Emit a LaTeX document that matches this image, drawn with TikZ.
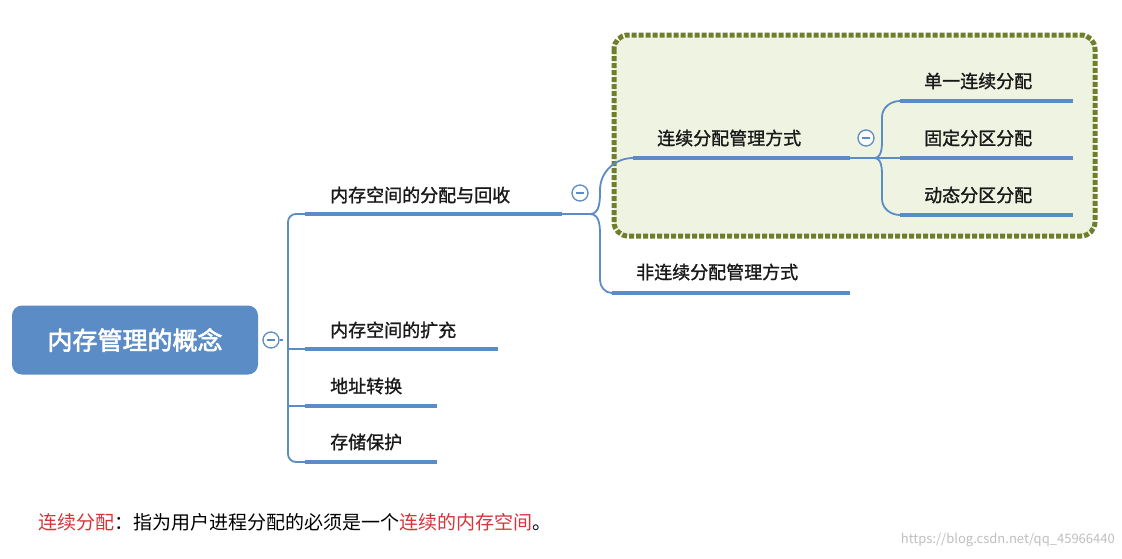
\documentclass[tikz,border=0pt]{standalone}
\usepackage{fontspec}
\setmainfont{Noto Sans CJK SC}
\newfontfamily\lblfont{Noto Sans CJK SC}[FakeBold=1.3]
\newfontfamily\rootfont{Noto Sans CJK SC}[FakeBold=2.5]
\definecolor{mblue}{HTML}{5B8CC6}
\definecolor{olive2}{HTML}{6E7F2C}
\definecolor{lgreen}{HTML}{EFF3E2}
\definecolor{cred}{HTML}{D6343A}
\begin{document}
\begin{tikzpicture}[x=1pt,y=-1pt,
  lbl/.style={font=\lblfont\fontsize{18}{21}\selectfont, text=black!90, inner sep=0},
  bar/.style={mblue, line width=4pt},
  conn/.style={mblue, line width=1.8pt},
  tog/.style={circle, draw=mblue, line width=1.3pt, fill=white, minimum size=16pt, inner sep=0}]
\useasboundingbox (0,0) rectangle (1122,558);
\fill[white] (0,0) rectangle (1122,558);
% dotted box
\draw[olive2, line width=5pt, dotted, fill=lgreen, rounded corners=14pt] (614,35) rectangle (1095,236);
% root
\node[fill=mblue, rounded corners=10pt, minimum width=246pt, minimum height=69pt, text=white, font=\rootfont\fontsize{25}{29}\selectfont] (root) at (135,340) {内存管理的概念};
\node[tog] (t0) at (271,340) {};
\draw[mblue, line width=1.3pt] (t0.center)++(-4,0) -- ++(8,0);
% level 1
\coordinate (b1) at (305,214);
\coordinate (b2) at (305,349);
\coordinate (b3) at (305,406);
\coordinate (b4) at (305,462);
\draw[conn] (t0.east) -- (283,340);
\draw[conn] (b1) -- (296,214) to[out=180,in=90] (288,222) -- (288,454) to[out=-90,in=180] (296,462) -- (b4);
\draw[conn] (288,349) -- (b2);
\draw[conn] (288,406) -- (b3);
\draw[bar] (b1) -- (562,214);
\draw[bar] (b2) -- (498,349);
\draw[bar] (b3) -- (437,406);
\draw[bar] (b4) -- (437,462);
\node[lbl, anchor=west] (n1) at (330,195) {内存空间的分配与回收};
\node[lbl, anchor=west] (n2) at (330,330) {内存空间的扩充};
\node[lbl, anchor=west] (n3) at (330,386) {地址转换};
\node[lbl, anchor=west] (n4) at (330,442) {存储保护};
% level 2
\node[tog] (t1) at (580,193) {};
\draw[mblue, line width=1.3pt] (t1.center)++(-4,0) -- ++(8,0);
\coordinate (c1) at (633,158);
\coordinate (c2) at (612,293);
\draw[conn] (562,214) -- (590,214) to[out=0,in=-90] (600,190) to[out=90,in=180] (c1);
\draw[conn] (590,214) to[out=0,in=90] (600,240) -- (600,280) to[out=-90,in=180] (c2);
\draw[bar] (c1) -- (850,158);
\draw[bar] (c2) -- (850,293);
\node[lbl, anchor=west] (m1) at (657,138) {连续分配管理方式};
\node[lbl, anchor=west] (m2) at (636,272) {非连续分配管理方式};
% level 3
\node[tog] (t2) at (866,138) {};
\draw[mblue, line width=1.3pt] (t2.center)++(-4,0) -- ++(8,0);
\draw[conn] (850,158) -- (900,158);
\coordinate (d1) at (900,101);
\coordinate (d2) at (900,158);
\coordinate (d3) at (900,215);
\draw[conn] (874,158) to[out=0,in=-90] (882,140) -- (882,117) to[out=90,in=180] (d1);
\draw[conn] (874,158) to[out=0,in=90] (882,176) -- (882,199) to[out=-90,in=180] (d3);
\draw[bar] (d1) -- (1073,101);
\draw[bar] (d2) -- (1073,158);
\draw[bar] (d3) -- (1073,215);
\node[lbl, anchor=west] (k1) at (924,81) {单一连续分配};
\node[lbl, anchor=west] (k2) at (924,138) {固定分区分配};
\node[lbl, anchor=west] (k3) at (924,195) {动态分区分配};
% bottom text
\node[anchor=west, inner sep=0, font=\fontsize{19}{22}\selectfont] (note) at (38,522) {\textcolor{cred}{连续分配}：指为用户进程分配的必须是一个\textcolor{cred}{连续的内存空间}。};
\node[anchor=east, inner sep=0, text=black!25, font=\fontsize{13}{15}\selectfont] (wm) at (1115,540) {https://blog.csdn.net/qq\_45966440};
\end{tikzpicture}
\end{document}
